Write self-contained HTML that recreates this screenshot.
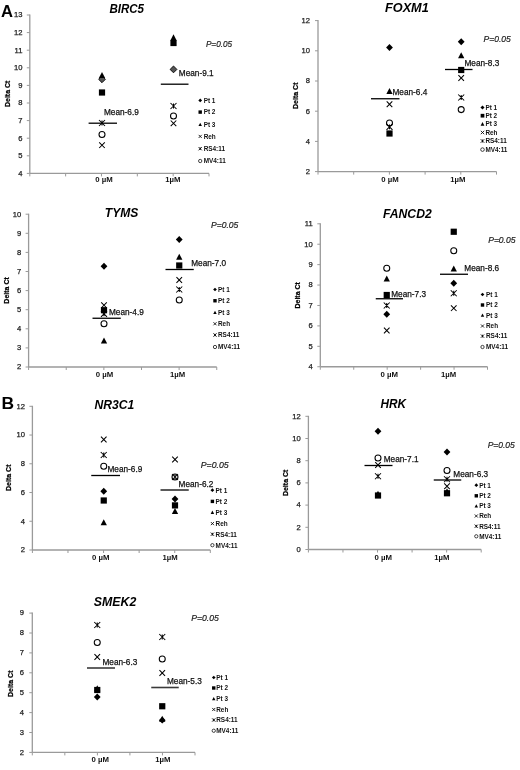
<!DOCTYPE html>
<html><head><meta charset="utf-8"><title>Delta Ct figure</title>
<style>
html,body{margin:0;padding:0;background:#fff;}
body{width:520px;height:770px;overflow:hidden;}
svg{display:block;font-family:"Liberation Sans", Arial, sans-serif;}
</style></head>
<body>
<svg width="520" height="770" viewBox="0 0 520 770">
<rect width="520" height="770" fill="#fff"/>
<path d="M29.80 14.50L29.80 173.40" stroke="#9a9a9a" stroke-width="1.3"/>
<path d="M26.80 173.40L29.80 173.40" stroke="#9a9a9a" stroke-width="1"/>
<text x="22.50" y="175.70" font-size="7.6" text-anchor="end" fill="#222" stroke="#222" stroke-width="0.25">4</text>
<path d="M26.80 155.80L29.80 155.80" stroke="#9a9a9a" stroke-width="1"/>
<text x="22.50" y="158.10" font-size="7.6" text-anchor="end" fill="#222" stroke="#222" stroke-width="0.25">5</text>
<path d="M26.80 138.20L29.80 138.20" stroke="#9a9a9a" stroke-width="1"/>
<text x="22.50" y="140.50" font-size="7.6" text-anchor="end" fill="#222" stroke="#222" stroke-width="0.25">6</text>
<path d="M26.80 120.60L29.80 120.60" stroke="#9a9a9a" stroke-width="1"/>
<text x="22.50" y="122.90" font-size="7.6" text-anchor="end" fill="#222" stroke="#222" stroke-width="0.25">7</text>
<path d="M26.80 103.00L29.80 103.00" stroke="#9a9a9a" stroke-width="1"/>
<text x="22.50" y="105.30" font-size="7.6" text-anchor="end" fill="#222" stroke="#222" stroke-width="0.25">8</text>
<path d="M26.80 85.40L29.80 85.40" stroke="#9a9a9a" stroke-width="1"/>
<text x="22.50" y="87.70" font-size="7.6" text-anchor="end" fill="#222" stroke="#222" stroke-width="0.25">9</text>
<path d="M26.80 67.80L29.80 67.80" stroke="#9a9a9a" stroke-width="1"/>
<text x="22.50" y="70.10" font-size="7.6" text-anchor="end" fill="#222" stroke="#222" stroke-width="0.25">10</text>
<path d="M26.80 50.20L29.80 50.20" stroke="#9a9a9a" stroke-width="1"/>
<text x="22.50" y="52.50" font-size="7.6" text-anchor="end" fill="#222" stroke="#222" stroke-width="0.25">11</text>
<path d="M26.80 32.60L29.80 32.60" stroke="#9a9a9a" stroke-width="1"/>
<text x="22.50" y="34.90" font-size="7.6" text-anchor="end" fill="#222" stroke="#222" stroke-width="0.25">12</text>
<path d="M26.80 15.00L29.80 15.00" stroke="#9a9a9a" stroke-width="1"/>
<text x="22.50" y="17.30" font-size="7.6" text-anchor="end" fill="#222" stroke="#222" stroke-width="0.25">13</text>
<path d="M29.80 173.40L209.00 173.40" stroke="#9a9a9a" stroke-width="1.3"/>
<path d="M29.80 173.40L29.80 176.40" stroke="#9a9a9a" stroke-width="1"/>
<path d="M65.64 173.40L65.64 176.40" stroke="#9a9a9a" stroke-width="1"/>
<path d="M101.48 173.40L101.48 176.40" stroke="#9a9a9a" stroke-width="1"/>
<path d="M137.32 173.40L137.32 176.40" stroke="#9a9a9a" stroke-width="1"/>
<path d="M173.16 173.40L173.16 176.40" stroke="#9a9a9a" stroke-width="1"/>
<path d="M209.00 173.40L209.00 176.40" stroke="#9a9a9a" stroke-width="1"/>
<text x="104.00" y="182.00" font-size="7.6" text-anchor="middle" font-weight="bold" fill="#111" textLength="17.50" lengthAdjust="spacingAndGlyphs">0 µM</text>
<text x="172.80" y="182.00" font-size="7.6" text-anchor="middle" font-weight="bold" fill="#111" textLength="15.20" lengthAdjust="spacingAndGlyphs">1µM</text>
<text x="109.40" y="12.50" font-size="12.4" text-anchor="start" font-weight="bold" font-style="italic" fill="#000" textLength="34.60" lengthAdjust="spacingAndGlyphs">BIRC5</text>
<text x="9.90" y="93.80" font-size="7.8" text-anchor="middle" font-weight="bold" fill="#000" stroke="#000" stroke-width="0.25" textLength="26.50" lengthAdjust="spacingAndGlyphs" transform="rotate(-90 9.90 93.80)">Delta Ct</text>
<text x="205.90" y="47.30" font-size="8.6" text-anchor="start" font-style="italic" fill="#222" stroke="#222" stroke-width="0.2" textLength="26.20" lengthAdjust="spacingAndGlyphs">P=0.05</text>
<path d="M88.60 123.20L117.00 123.20" stroke="#000" stroke-width="1.3"/>
<path d="M160.80 84.20L188.50 84.20" stroke="#000" stroke-width="1.3"/>
<text x="104.00" y="114.90" font-size="8.3" text-anchor="start" fill="#111" stroke="#111" stroke-width="0.25" textLength="34.80" lengthAdjust="spacingAndGlyphs">Mean-6.9</text>
<text x="178.80" y="75.90" font-size="8.3" text-anchor="start" fill="#111" stroke="#111" stroke-width="0.25" textLength="34.80" lengthAdjust="spacingAndGlyphs">Mean-9.1</text>
<path d="M102.00 75.90L105.40 79.30L102.00 82.70L98.60 79.30Z" fill="#555" stroke="#000" stroke-width="0.9"/>
<rect x="98.90" y="89.40" width="6.20" height="6.20" fill="#000"/>
<path d="M102.00 72.00L105.15 78.10L98.85 78.10Z" fill="#000"/>
<path d="M99.20 142.40L104.80 148.00M104.80 142.40L99.20 148.00" stroke="#000" stroke-width="1.05" fill="none"/>
<path d="M99.00 120.00L105.00 126.00M105.00 120.00L99.00 126.00M102.00 120.60L102.00 125.40" stroke="#000" stroke-width="1.05" fill="none"/>
<circle cx="102.00" cy="134.50" r="3.00" stroke="#000" stroke-width="1.05" fill="none"/>
<path d="M173.50 66.00L176.90 69.40L173.50 72.80L170.10 69.40Z" fill="#555" stroke="#000" stroke-width="0.9"/>
<rect x="170.40" y="39.90" width="6.20" height="6.20" fill="#000"/>
<path d="M173.50 34.30L176.65 40.40L170.35 40.40Z" fill="#000"/>
<path d="M170.70 120.50L176.30 126.10M176.30 120.50L170.70 126.10" stroke="#000" stroke-width="1.05" fill="none"/>
<path d="M170.50 103.00L176.50 109.00M176.50 103.00L170.50 109.00M173.50 103.60L173.50 108.40" stroke="#000" stroke-width="1.05" fill="none"/>
<circle cx="173.50" cy="116.00" r="3.00" stroke="#000" stroke-width="1.05" fill="none"/>
<path d="M200.20 98.53L202.07 100.40L200.20 102.27L198.33 100.40Z" fill="#000"/>
<text x="203.70" y="102.70" font-size="6.4" text-anchor="start" font-weight="bold" fill="#111">Pt 1</text>
<rect x="198.49" y="110.39" width="3.41" height="3.41" fill="#000"/>
<text x="203.70" y="114.40" font-size="6.4" text-anchor="start" font-weight="bold" fill="#111">Pt 2</text>
<path d="M200.20 122.69L201.93 126.04L198.47 126.04Z" fill="#000"/>
<text x="203.70" y="126.80" font-size="6.4" text-anchor="start" font-weight="bold" fill="#111">Pt 3</text>
<path d="M198.66 134.86L201.74 137.94M201.74 134.86L198.66 137.94" stroke="#000" stroke-width="0.84" fill="none"/>
<text x="203.70" y="138.70" font-size="6.4" text-anchor="start" font-weight="bold" fill="#111">Reh</text>
<path d="M198.55 147.05L201.85 150.35M201.85 147.05L198.55 150.35M200.20 147.38L200.20 150.02" stroke="#000" stroke-width="0.84" fill="none"/>
<text x="203.70" y="151.00" font-size="6.4" text-anchor="start" font-weight="bold" fill="#111">RS4:11</text>
<circle cx="200.20" cy="161.00" r="1.65" stroke="#000" stroke-width="0.73" fill="none"/>
<text x="203.70" y="163.30" font-size="6.4" text-anchor="start" font-weight="bold" fill="#111">MV4:11</text>
<path d="M318.00 20.10L318.00 171.60" stroke="#9a9a9a" stroke-width="1.3"/>
<path d="M315.00 171.60L318.00 171.60" stroke="#9a9a9a" stroke-width="1"/>
<text x="310.00" y="173.90" font-size="7.6" text-anchor="end" fill="#222" stroke="#222" stroke-width="0.25">2</text>
<path d="M315.00 141.40L318.00 141.40" stroke="#9a9a9a" stroke-width="1"/>
<text x="310.00" y="143.70" font-size="7.6" text-anchor="end" fill="#222" stroke="#222" stroke-width="0.25">4</text>
<path d="M315.00 111.20L318.00 111.20" stroke="#9a9a9a" stroke-width="1"/>
<text x="310.00" y="113.50" font-size="7.6" text-anchor="end" fill="#222" stroke="#222" stroke-width="0.25">6</text>
<path d="M315.00 81.00L318.00 81.00" stroke="#9a9a9a" stroke-width="1"/>
<text x="310.00" y="83.30" font-size="7.6" text-anchor="end" fill="#222" stroke="#222" stroke-width="0.25">8</text>
<path d="M315.00 50.80L318.00 50.80" stroke="#9a9a9a" stroke-width="1"/>
<text x="310.00" y="53.10" font-size="7.6" text-anchor="end" fill="#222" stroke="#222" stroke-width="0.25">10</text>
<path d="M315.00 20.60L318.00 20.60" stroke="#9a9a9a" stroke-width="1"/>
<text x="310.00" y="22.90" font-size="7.6" text-anchor="end" fill="#222" stroke="#222" stroke-width="0.25">12</text>
<path d="M318.00 171.60L496.50 171.60" stroke="#9a9a9a" stroke-width="1.3"/>
<path d="M318.00 171.60L318.00 174.60" stroke="#9a9a9a" stroke-width="1"/>
<path d="M353.70 171.60L353.70 174.60" stroke="#9a9a9a" stroke-width="1"/>
<path d="M389.40 171.60L389.40 174.60" stroke="#9a9a9a" stroke-width="1"/>
<path d="M425.10 171.60L425.10 174.60" stroke="#9a9a9a" stroke-width="1"/>
<path d="M460.80 171.60L460.80 174.60" stroke="#9a9a9a" stroke-width="1"/>
<path d="M496.50 171.60L496.50 174.60" stroke="#9a9a9a" stroke-width="1"/>
<text x="390.00" y="181.70" font-size="7.6" text-anchor="middle" font-weight="bold" fill="#111" textLength="17.50" lengthAdjust="spacingAndGlyphs">0 µM</text>
<text x="457.75" y="181.70" font-size="7.6" text-anchor="middle" font-weight="bold" fill="#111" textLength="15.20" lengthAdjust="spacingAndGlyphs">1µM</text>
<text x="385.00" y="12.00" font-size="12.4" text-anchor="start" font-weight="bold" font-style="italic" fill="#000" textLength="43.75" lengthAdjust="spacingAndGlyphs">FOXM1</text>
<text x="297.60" y="95.75" font-size="7.8" text-anchor="middle" font-weight="bold" fill="#000" stroke="#000" stroke-width="0.25" textLength="26.50" lengthAdjust="spacingAndGlyphs" transform="rotate(-90 297.60 95.75)">Delta Ct</text>
<text x="483.60" y="42.30" font-size="8.6" text-anchor="start" font-style="italic" fill="#222" stroke="#222" stroke-width="0.2" textLength="27.15" lengthAdjust="spacingAndGlyphs">P=0.05</text>
<path d="M371.00 98.75L399.50 98.75" stroke="#000" stroke-width="1.3"/>
<path d="M445.00 69.50L472.50 69.50" stroke="#000" stroke-width="1.3"/>
<text x="392.50" y="94.90" font-size="8.3" text-anchor="start" fill="#111" stroke="#111" stroke-width="0.25" textLength="34.80" lengthAdjust="spacingAndGlyphs">Mean-6.4</text>
<text x="464.50" y="65.90" font-size="8.3" text-anchor="start" fill="#111" stroke="#111" stroke-width="0.25" textLength="34.80" lengthAdjust="spacingAndGlyphs">Mean-8.3</text>
<path d="M389.50 44.10L392.90 47.50L389.50 50.90L386.10 47.50Z" fill="#000"/>
<rect x="386.40" y="130.40" width="6.20" height="6.20" fill="#000"/>
<path d="M389.50 87.95L392.65 94.05L386.35 94.05Z" fill="#000"/>
<path d="M386.70 101.45L392.30 107.05M392.30 101.45L386.70 107.05" stroke="#000" stroke-width="1.05" fill="none"/>
<path d="M386.50 123.80L392.50 129.80M392.50 123.80L386.50 129.80M389.50 124.40L389.50 129.20" stroke="#000" stroke-width="1.05" fill="none"/>
<circle cx="389.50" cy="123.00" r="3.00" stroke="#000" stroke-width="1.05" fill="none"/>
<path d="M461.20 38.35L464.60 41.75L461.20 45.15L457.80 41.75Z" fill="#000"/>
<rect x="458.10" y="66.90" width="6.20" height="6.20" fill="#000"/>
<path d="M461.20 52.20L464.35 58.30L458.05 58.30Z" fill="#000"/>
<path d="M458.40 75.20L464.00 80.80M464.00 75.20L458.40 80.80" stroke="#000" stroke-width="1.05" fill="none"/>
<path d="M458.20 94.50L464.20 100.50M464.20 94.50L458.20 100.50M461.20 95.10L461.20 99.90" stroke="#000" stroke-width="1.05" fill="none"/>
<circle cx="461.20" cy="109.60" r="3.00" stroke="#000" stroke-width="1.05" fill="none"/>
<path d="M482.50 105.46L484.54 107.50L482.50 109.54L480.46 107.50Z" fill="#000"/>
<text x="485.40" y="109.80" font-size="6.4" text-anchor="start" font-weight="bold" fill="#111">Pt 1</text>
<rect x="480.64" y="113.84" width="3.72" height="3.72" fill="#000"/>
<text x="485.40" y="118.00" font-size="6.4" text-anchor="start" font-weight="bold" fill="#111">Pt 2</text>
<path d="M482.50 122.12L484.39 125.78L480.61 125.78Z" fill="#000"/>
<text x="485.40" y="126.40" font-size="6.4" text-anchor="start" font-weight="bold" fill="#111">Pt 3</text>
<path d="M480.82 130.82L484.18 134.18M484.18 130.82L480.82 134.18" stroke="#000" stroke-width="0.84" fill="none"/>
<text x="485.40" y="134.80" font-size="6.4" text-anchor="start" font-weight="bold" fill="#111">Reh</text>
<path d="M480.70 139.20L484.30 142.80M484.30 139.20L480.70 142.80M482.50 139.56L482.50 142.44" stroke="#000" stroke-width="0.84" fill="none"/>
<text x="485.40" y="143.30" font-size="6.4" text-anchor="start" font-weight="bold" fill="#111">RS4:11</text>
<circle cx="482.50" cy="149.60" r="1.80" stroke="#000" stroke-width="0.73" fill="none"/>
<text x="485.40" y="151.90" font-size="6.4" text-anchor="start" font-weight="bold" fill="#111">MV4:11</text>
<path d="M28.60 213.70L28.60 367.00" stroke="#9a9a9a" stroke-width="1.3"/>
<path d="M25.60 367.00L28.60 367.00" stroke="#9a9a9a" stroke-width="1"/>
<text x="21.20" y="369.30" font-size="7.6" text-anchor="end" fill="#222" stroke="#222" stroke-width="0.25">2</text>
<path d="M25.60 347.90L28.60 347.90" stroke="#9a9a9a" stroke-width="1"/>
<text x="21.20" y="350.20" font-size="7.6" text-anchor="end" fill="#222" stroke="#222" stroke-width="0.25">3</text>
<path d="M25.60 328.80L28.60 328.80" stroke="#9a9a9a" stroke-width="1"/>
<text x="21.20" y="331.10" font-size="7.6" text-anchor="end" fill="#222" stroke="#222" stroke-width="0.25">4</text>
<path d="M25.60 309.70L28.60 309.70" stroke="#9a9a9a" stroke-width="1"/>
<text x="21.20" y="312.00" font-size="7.6" text-anchor="end" fill="#222" stroke="#222" stroke-width="0.25">5</text>
<path d="M25.60 290.60L28.60 290.60" stroke="#9a9a9a" stroke-width="1"/>
<text x="21.20" y="292.90" font-size="7.6" text-anchor="end" fill="#222" stroke="#222" stroke-width="0.25">6</text>
<path d="M25.60 271.50L28.60 271.50" stroke="#9a9a9a" stroke-width="1"/>
<text x="21.20" y="273.80" font-size="7.6" text-anchor="end" fill="#222" stroke="#222" stroke-width="0.25">7</text>
<path d="M25.60 252.40L28.60 252.40" stroke="#9a9a9a" stroke-width="1"/>
<text x="21.20" y="254.70" font-size="7.6" text-anchor="end" fill="#222" stroke="#222" stroke-width="0.25">8</text>
<path d="M25.60 233.30L28.60 233.30" stroke="#9a9a9a" stroke-width="1"/>
<text x="21.20" y="235.60" font-size="7.6" text-anchor="end" fill="#222" stroke="#222" stroke-width="0.25">9</text>
<path d="M25.60 214.20L28.60 214.20" stroke="#9a9a9a" stroke-width="1"/>
<text x="21.20" y="216.50" font-size="7.6" text-anchor="end" fill="#222" stroke="#222" stroke-width="0.25">10</text>
<path d="M28.60 367.00L216.75 367.00" stroke="#9a9a9a" stroke-width="1.3"/>
<path d="M28.60 367.00L28.60 370.00" stroke="#9a9a9a" stroke-width="1"/>
<path d="M66.23 367.00L66.23 370.00" stroke="#9a9a9a" stroke-width="1"/>
<path d="M103.86 367.00L103.86 370.00" stroke="#9a9a9a" stroke-width="1"/>
<path d="M141.49 367.00L141.49 370.00" stroke="#9a9a9a" stroke-width="1"/>
<path d="M179.12 367.00L179.12 370.00" stroke="#9a9a9a" stroke-width="1"/>
<path d="M216.75 367.00L216.75 370.00" stroke="#9a9a9a" stroke-width="1"/>
<text x="104.50" y="376.70" font-size="7.6" text-anchor="middle" font-weight="bold" fill="#111" textLength="17.50" lengthAdjust="spacingAndGlyphs">0 µM</text>
<text x="177.50" y="377.20" font-size="7.6" text-anchor="middle" font-weight="bold" fill="#111" textLength="15.20" lengthAdjust="spacingAndGlyphs">1µM</text>
<text x="104.80" y="217.20" font-size="12.4" text-anchor="start" font-weight="bold" font-style="italic" fill="#000" textLength="33.50" lengthAdjust="spacingAndGlyphs">TYMS</text>
<text x="8.85" y="290.40" font-size="7.8" text-anchor="middle" font-weight="bold" fill="#000" stroke="#000" stroke-width="0.25" textLength="26.50" lengthAdjust="spacingAndGlyphs" transform="rotate(-90 8.85 290.40)">Delta Ct</text>
<text x="211.00" y="228.00" font-size="8.6" text-anchor="start" font-style="italic" fill="#222" stroke="#222" stroke-width="0.2" textLength="27.30" lengthAdjust="spacingAndGlyphs">P=0.05</text>
<path d="M92.50 318.25L120.75 318.25" stroke="#000" stroke-width="1.3"/>
<path d="M165.50 269.50L193.75 269.50" stroke="#000" stroke-width="1.3"/>
<text x="109.00" y="314.90" font-size="8.3" text-anchor="start" fill="#111" stroke="#111" stroke-width="0.25" textLength="34.80" lengthAdjust="spacingAndGlyphs">Mean-4.9</text>
<text x="191.25" y="265.90" font-size="8.3" text-anchor="start" fill="#111" stroke="#111" stroke-width="0.25" textLength="34.80" lengthAdjust="spacingAndGlyphs">Mean-7.0</text>
<path d="M104.00 262.85L107.40 266.25L104.00 269.65L100.60 266.25Z" fill="#000"/>
<rect x="100.90" y="307.10" width="6.20" height="6.20" fill="#000"/>
<path d="M104.00 337.45L107.15 343.55L100.85 343.55Z" fill="#000"/>
<path d="M101.20 302.40L106.80 308.00M106.80 302.40L101.20 308.00" stroke="#000" stroke-width="1.05" fill="none"/>
<path d="M101.00 310.80L107.00 316.80M107.00 310.80L101.00 316.80M104.00 311.40L104.00 316.20" stroke="#000" stroke-width="1.05" fill="none"/>
<circle cx="104.00" cy="323.75" r="3.00" stroke="#000" stroke-width="1.05" fill="none"/>
<path d="M179.25 236.10L182.65 239.50L179.25 242.90L175.85 239.50Z" fill="#000"/>
<rect x="176.15" y="262.40" width="6.20" height="6.20" fill="#000"/>
<path d="M179.25 253.70L182.40 259.80L176.10 259.80Z" fill="#000"/>
<path d="M176.45 277.20L182.05 282.80M182.05 277.20L176.45 282.80" stroke="#000" stroke-width="1.05" fill="none"/>
<path d="M176.25 286.50L182.25 292.50M182.25 286.50L176.25 292.50M179.25 287.10L179.25 291.90" stroke="#000" stroke-width="1.05" fill="none"/>
<circle cx="179.25" cy="300.00" r="3.00" stroke="#000" stroke-width="1.05" fill="none"/>
<path d="M215.00 287.63L216.87 289.50L215.00 291.37L213.13 289.50Z" fill="#000"/>
<text x="218.00" y="291.80" font-size="6.4" text-anchor="start" font-weight="bold" fill="#111">Pt 1</text>
<rect x="213.29" y="299.05" width="3.41" height="3.41" fill="#000"/>
<text x="218.00" y="303.05" font-size="6.4" text-anchor="start" font-weight="bold" fill="#111">Pt 2</text>
<path d="M215.00 310.69L216.73 314.04L213.27 314.04Z" fill="#000"/>
<text x="218.00" y="314.80" font-size="6.4" text-anchor="start" font-weight="bold" fill="#111">Pt 3</text>
<path d="M213.46 322.21L216.54 325.29M216.54 322.21L213.46 325.29" stroke="#000" stroke-width="0.84" fill="none"/>
<text x="218.00" y="326.05" font-size="6.4" text-anchor="start" font-weight="bold" fill="#111">Reh</text>
<path d="M213.35 333.35L216.65 336.65M216.65 333.35L213.35 336.65M215.00 333.68L215.00 336.32" stroke="#000" stroke-width="0.84" fill="none"/>
<text x="218.00" y="337.30" font-size="6.4" text-anchor="start" font-weight="bold" fill="#111">RS4:11</text>
<circle cx="215.00" cy="347.00" r="1.65" stroke="#000" stroke-width="0.73" fill="none"/>
<text x="218.00" y="349.30" font-size="6.4" text-anchor="start" font-weight="bold" fill="#111">MV4:11</text>
<path d="M320.30 223.30L320.30 366.74" stroke="#9a9a9a" stroke-width="1.3"/>
<path d="M317.30 366.74L320.30 366.74" stroke="#9a9a9a" stroke-width="1"/>
<text x="312.70" y="369.04" font-size="7.6" text-anchor="end" fill="#222" stroke="#222" stroke-width="0.25">4</text>
<path d="M317.30 346.32L320.30 346.32" stroke="#9a9a9a" stroke-width="1"/>
<text x="312.70" y="348.62" font-size="7.6" text-anchor="end" fill="#222" stroke="#222" stroke-width="0.25">5</text>
<path d="M317.30 325.90L320.30 325.90" stroke="#9a9a9a" stroke-width="1"/>
<text x="312.70" y="328.20" font-size="7.6" text-anchor="end" fill="#222" stroke="#222" stroke-width="0.25">6</text>
<path d="M317.30 305.48L320.30 305.48" stroke="#9a9a9a" stroke-width="1"/>
<text x="312.70" y="307.78" font-size="7.6" text-anchor="end" fill="#222" stroke="#222" stroke-width="0.25">7</text>
<path d="M317.30 285.06L320.30 285.06" stroke="#9a9a9a" stroke-width="1"/>
<text x="312.70" y="287.36" font-size="7.6" text-anchor="end" fill="#222" stroke="#222" stroke-width="0.25">8</text>
<path d="M317.30 264.64L320.30 264.64" stroke="#9a9a9a" stroke-width="1"/>
<text x="312.70" y="266.94" font-size="7.6" text-anchor="end" fill="#222" stroke="#222" stroke-width="0.25">9</text>
<path d="M317.30 244.22L320.30 244.22" stroke="#9a9a9a" stroke-width="1"/>
<text x="312.70" y="246.52" font-size="7.6" text-anchor="end" fill="#222" stroke="#222" stroke-width="0.25">10</text>
<path d="M317.30 223.80L320.30 223.80" stroke="#9a9a9a" stroke-width="1"/>
<text x="312.70" y="226.10" font-size="7.6" text-anchor="end" fill="#222" stroke="#222" stroke-width="0.25">11</text>
<path d="M320.30 366.74L487.50 366.74" stroke="#9a9a9a" stroke-width="1.3"/>
<path d="M320.30 366.74L320.30 369.74" stroke="#9a9a9a" stroke-width="1"/>
<path d="M353.74 366.74L353.74 369.74" stroke="#9a9a9a" stroke-width="1"/>
<path d="M387.18 366.74L387.18 369.74" stroke="#9a9a9a" stroke-width="1"/>
<path d="M420.62 366.74L420.62 369.74" stroke="#9a9a9a" stroke-width="1"/>
<path d="M454.06 366.74L454.06 369.74" stroke="#9a9a9a" stroke-width="1"/>
<path d="M487.50 366.74L487.50 369.74" stroke="#9a9a9a" stroke-width="1"/>
<text x="389.25" y="377.20" font-size="7.6" text-anchor="middle" font-weight="bold" fill="#111" textLength="17.50" lengthAdjust="spacingAndGlyphs">0 µM</text>
<text x="448.50" y="377.20" font-size="7.6" text-anchor="middle" font-weight="bold" fill="#111" textLength="15.20" lengthAdjust="spacingAndGlyphs">1µM</text>
<text x="383.00" y="217.50" font-size="12.4" text-anchor="start" font-weight="bold" font-style="italic" fill="#000" textLength="48.75" lengthAdjust="spacingAndGlyphs">FANCD2</text>
<text x="299.90" y="295.30" font-size="7.8" text-anchor="middle" font-weight="bold" fill="#000" stroke="#000" stroke-width="0.25" textLength="26.50" lengthAdjust="spacingAndGlyphs" transform="rotate(-90 299.90 295.30)">Delta Ct</text>
<text x="488.20" y="242.50" font-size="8.6" text-anchor="start" font-style="italic" fill="#222" stroke="#222" stroke-width="0.2" textLength="27.30" lengthAdjust="spacingAndGlyphs">P=0.05</text>
<path d="M375.75 298.75L403.00 298.75" stroke="#000" stroke-width="1.3"/>
<path d="M440.00 274.25L468.00 274.25" stroke="#000" stroke-width="1.3"/>
<text x="391.25" y="296.65" font-size="8.3" text-anchor="start" fill="#111" stroke="#111" stroke-width="0.25" textLength="34.80" lengthAdjust="spacingAndGlyphs">Mean-7.3</text>
<text x="464.30" y="271.20" font-size="8.3" text-anchor="start" fill="#111" stroke="#111" stroke-width="0.25" textLength="34.80" lengthAdjust="spacingAndGlyphs">Mean-8.6</text>
<path d="M386.75 310.85L390.15 314.25L386.75 317.65L383.35 314.25Z" fill="#000"/>
<rect x="383.65" y="291.90" width="6.20" height="6.20" fill="#000"/>
<path d="M386.75 275.45L389.90 281.55L383.60 281.55Z" fill="#000"/>
<path d="M383.95 327.70L389.55 333.30M389.55 327.70L383.95 333.30" stroke="#000" stroke-width="1.05" fill="none"/>
<path d="M383.75 302.50L389.75 308.50M389.75 302.50L383.75 308.50M386.75 303.10L386.75 307.90" stroke="#000" stroke-width="1.05" fill="none"/>
<circle cx="386.75" cy="268.25" r="3.00" stroke="#000" stroke-width="1.05" fill="none"/>
<path d="M453.75 279.85L457.15 283.25L453.75 286.65L450.35 283.25Z" fill="#000"/>
<rect x="450.65" y="228.65" width="6.20" height="6.20" fill="#000"/>
<path d="M453.75 265.45L456.90 271.55L450.60 271.55Z" fill="#000"/>
<path d="M450.95 305.40L456.55 311.00M456.55 305.40L450.95 311.00" stroke="#000" stroke-width="1.05" fill="none"/>
<path d="M450.75 290.25L456.75 296.25M456.75 290.25L450.75 296.25M453.75 290.85L453.75 295.65" stroke="#000" stroke-width="1.05" fill="none"/>
<circle cx="453.75" cy="250.75" r="3.00" stroke="#000" stroke-width="1.05" fill="none"/>
<path d="M482.50 292.63L484.37 294.50L482.50 296.37L480.63 294.50Z" fill="#000"/>
<text x="486.00" y="296.80" font-size="6.4" text-anchor="start" font-weight="bold" fill="#111">Pt 1</text>
<rect x="480.80" y="303.30" width="3.41" height="3.41" fill="#000"/>
<text x="486.00" y="307.30" font-size="6.4" text-anchor="start" font-weight="bold" fill="#111">Pt 2</text>
<path d="M482.50 313.38L484.23 316.74L480.77 316.74Z" fill="#000"/>
<text x="486.00" y="317.50" font-size="6.4" text-anchor="start" font-weight="bold" fill="#111">Pt 3</text>
<path d="M480.96 324.46L484.04 327.54M484.04 324.46L480.96 327.54" stroke="#000" stroke-width="0.84" fill="none"/>
<text x="486.00" y="328.30" font-size="6.4" text-anchor="start" font-weight="bold" fill="#111">Reh</text>
<path d="M480.85 334.45L484.15 337.75M484.15 334.45L480.85 337.75M482.50 334.78L482.50 337.42" stroke="#000" stroke-width="0.84" fill="none"/>
<text x="486.00" y="338.40" font-size="6.4" text-anchor="start" font-weight="bold" fill="#111">RS4:11</text>
<circle cx="482.50" cy="347.00" r="1.65" stroke="#000" stroke-width="0.73" fill="none"/>
<text x="486.00" y="349.30" font-size="6.4" text-anchor="start" font-weight="bold" fill="#111">MV4:11</text>
<path d="M32.40 405.80L32.40 550.00" stroke="#9a9a9a" stroke-width="1.3"/>
<path d="M29.40 550.00L32.40 550.00" stroke="#9a9a9a" stroke-width="1"/>
<text x="25.00" y="552.30" font-size="7.6" text-anchor="end" fill="#222" stroke="#222" stroke-width="0.25">2</text>
<path d="M29.40 521.26L32.40 521.26" stroke="#9a9a9a" stroke-width="1"/>
<text x="25.00" y="523.56" font-size="7.6" text-anchor="end" fill="#222" stroke="#222" stroke-width="0.25">4</text>
<path d="M29.40 492.52L32.40 492.52" stroke="#9a9a9a" stroke-width="1"/>
<text x="25.00" y="494.82" font-size="7.6" text-anchor="end" fill="#222" stroke="#222" stroke-width="0.25">6</text>
<path d="M29.40 463.78L32.40 463.78" stroke="#9a9a9a" stroke-width="1"/>
<text x="25.00" y="466.08" font-size="7.6" text-anchor="end" fill="#222" stroke="#222" stroke-width="0.25">8</text>
<path d="M29.40 435.04L32.40 435.04" stroke="#9a9a9a" stroke-width="1"/>
<text x="25.00" y="437.34" font-size="7.6" text-anchor="end" fill="#222" stroke="#222" stroke-width="0.25">10</text>
<path d="M29.40 406.30L32.40 406.30" stroke="#9a9a9a" stroke-width="1"/>
<text x="25.00" y="408.60" font-size="7.6" text-anchor="end" fill="#222" stroke="#222" stroke-width="0.25">12</text>
<path d="M32.40 550.00L210.30 550.00" stroke="#9a9a9a" stroke-width="1.3"/>
<path d="M32.40 550.00L32.40 553.00" stroke="#9a9a9a" stroke-width="1"/>
<path d="M67.98 550.00L67.98 553.00" stroke="#9a9a9a" stroke-width="1"/>
<path d="M103.56 550.00L103.56 553.00" stroke="#9a9a9a" stroke-width="1"/>
<path d="M139.14 550.00L139.14 553.00" stroke="#9a9a9a" stroke-width="1"/>
<path d="M174.72 550.00L174.72 553.00" stroke="#9a9a9a" stroke-width="1"/>
<path d="M210.30 550.00L210.30 553.00" stroke="#9a9a9a" stroke-width="1"/>
<text x="100.75" y="560.20" font-size="7.6" text-anchor="middle" font-weight="bold" fill="#111" textLength="17.50" lengthAdjust="spacingAndGlyphs">0 µM</text>
<text x="170.00" y="560.20" font-size="7.6" text-anchor="middle" font-weight="bold" fill="#111" textLength="15.20" lengthAdjust="spacingAndGlyphs">1µM</text>
<text x="94.50" y="408.50" font-size="12.4" text-anchor="start" font-weight="bold" font-style="italic" fill="#000" textLength="39.80" lengthAdjust="spacingAndGlyphs">NR3C1</text>
<text x="11.25" y="477.75" font-size="7.8" text-anchor="middle" font-weight="bold" fill="#000" stroke="#000" stroke-width="0.25" textLength="26.50" lengthAdjust="spacingAndGlyphs" transform="rotate(-90 11.25 477.75)">Delta Ct</text>
<text x="200.80" y="468.00" font-size="8.6" text-anchor="start" font-style="italic" fill="#222" stroke="#222" stroke-width="0.2" textLength="27.90" lengthAdjust="spacingAndGlyphs">P=0.05</text>
<path d="M91.25 475.50L120.00 475.50" stroke="#000" stroke-width="1.3"/>
<path d="M160.50 490.00L188.75 490.00" stroke="#000" stroke-width="1.3"/>
<text x="107.50" y="471.65" font-size="8.3" text-anchor="start" fill="#111" stroke="#111" stroke-width="0.25" textLength="34.80" lengthAdjust="spacingAndGlyphs">Mean-6.9</text>
<text x="178.60" y="486.70" font-size="8.3" text-anchor="start" fill="#111" stroke="#111" stroke-width="0.25" textLength="34.80" lengthAdjust="spacingAndGlyphs">Mean-6.2</text>
<path d="M103.75 487.85L107.15 491.25L103.75 494.65L100.35 491.25Z" fill="#000"/>
<rect x="100.65" y="497.40" width="6.20" height="6.20" fill="#000"/>
<path d="M103.75 519.20L106.90 525.30L100.60 525.30Z" fill="#000"/>
<path d="M100.95 436.70L106.55 442.30M106.55 436.70L100.95 442.30" stroke="#000" stroke-width="1.05" fill="none"/>
<path d="M100.75 452.00L106.75 458.00M106.75 452.00L100.75 458.00M103.75 452.60L103.75 457.40" stroke="#000" stroke-width="1.05" fill="none"/>
<circle cx="103.75" cy="466.25" r="3.00" stroke="#000" stroke-width="1.05" fill="none"/>
<path d="M175.00 495.60L178.40 499.00L175.00 502.40L171.60 499.00Z" fill="#000"/>
<rect x="171.90" y="502.30" width="6.20" height="6.20" fill="#000"/>
<path d="M175.00 508.00L178.15 514.10L171.85 514.10Z" fill="#000"/>
<path d="M172.20 456.70L177.80 462.30M177.80 456.70L172.20 462.30" stroke="#000" stroke-width="1.05" fill="none"/>
<path d="M172.00 474.00L178.00 480.00M178.00 474.00L172.00 480.00M175.00 474.60L175.00 479.40" stroke="#000" stroke-width="1.05" fill="none"/>
<circle cx="175.00" cy="477.00" r="3.00" stroke="#000" stroke-width="1.05" fill="none"/>
<path d="M212.40 488.33L214.27 490.20L212.40 492.07L210.53 490.20Z" fill="#000"/>
<text x="215.60" y="492.50" font-size="6.4" text-anchor="start" font-weight="bold" fill="#111">Pt 1</text>
<rect x="210.69" y="499.69" width="3.41" height="3.41" fill="#000"/>
<text x="215.60" y="503.70" font-size="6.4" text-anchor="start" font-weight="bold" fill="#111">Pt 2</text>
<path d="M212.40 510.58L214.13 513.94L210.67 513.94Z" fill="#000"/>
<text x="215.60" y="514.70" font-size="6.4" text-anchor="start" font-weight="bold" fill="#111">Pt 3</text>
<path d="M210.86 522.06L213.94 525.14M213.94 522.06L210.86 525.14" stroke="#000" stroke-width="0.84" fill="none"/>
<text x="215.60" y="525.90" font-size="6.4" text-anchor="start" font-weight="bold" fill="#111">Reh</text>
<path d="M210.75 532.55L214.05 535.85M214.05 532.55L210.75 535.85M212.40 532.88L212.40 535.52" stroke="#000" stroke-width="0.84" fill="none"/>
<text x="215.60" y="536.50" font-size="6.4" text-anchor="start" font-weight="bold" fill="#111">RS4:11</text>
<circle cx="212.40" cy="545.20" r="1.65" stroke="#000" stroke-width="0.73" fill="none"/>
<text x="215.60" y="547.50" font-size="6.4" text-anchor="start" font-weight="bold" fill="#111">MV4:11</text>
<path d="M308.40 415.80L308.40 549.50" stroke="#9a9a9a" stroke-width="1.3"/>
<path d="M305.40 549.50L308.40 549.50" stroke="#9a9a9a" stroke-width="1"/>
<text x="300.80" y="551.80" font-size="7.6" text-anchor="end" fill="#222" stroke="#222" stroke-width="0.25">0</text>
<path d="M305.40 527.30L308.40 527.30" stroke="#9a9a9a" stroke-width="1"/>
<text x="300.80" y="529.60" font-size="7.6" text-anchor="end" fill="#222" stroke="#222" stroke-width="0.25">2</text>
<path d="M305.40 505.10L308.40 505.10" stroke="#9a9a9a" stroke-width="1"/>
<text x="300.80" y="507.40" font-size="7.6" text-anchor="end" fill="#222" stroke="#222" stroke-width="0.25">4</text>
<path d="M305.40 482.90L308.40 482.90" stroke="#9a9a9a" stroke-width="1"/>
<text x="300.80" y="485.20" font-size="7.6" text-anchor="end" fill="#222" stroke="#222" stroke-width="0.25">6</text>
<path d="M305.40 460.70L308.40 460.70" stroke="#9a9a9a" stroke-width="1"/>
<text x="300.80" y="463.00" font-size="7.6" text-anchor="end" fill="#222" stroke="#222" stroke-width="0.25">8</text>
<path d="M305.40 438.50L308.40 438.50" stroke="#9a9a9a" stroke-width="1"/>
<text x="300.80" y="440.80" font-size="7.6" text-anchor="end" fill="#222" stroke="#222" stroke-width="0.25">10</text>
<path d="M305.40 416.30L308.40 416.30" stroke="#9a9a9a" stroke-width="1"/>
<text x="300.80" y="418.60" font-size="7.6" text-anchor="end" fill="#222" stroke="#222" stroke-width="0.25">12</text>
<path d="M308.40 549.50L481.20 549.50" stroke="#9a9a9a" stroke-width="1.3"/>
<path d="M308.40 549.50L308.40 552.50" stroke="#9a9a9a" stroke-width="1"/>
<path d="M342.96 549.50L342.96 552.50" stroke="#9a9a9a" stroke-width="1"/>
<path d="M377.52 549.50L377.52 552.50" stroke="#9a9a9a" stroke-width="1"/>
<path d="M412.08 549.50L412.08 552.50" stroke="#9a9a9a" stroke-width="1"/>
<path d="M446.64 549.50L446.64 552.50" stroke="#9a9a9a" stroke-width="1"/>
<path d="M481.20 549.50L481.20 552.50" stroke="#9a9a9a" stroke-width="1"/>
<text x="383.25" y="560.20" font-size="7.6" text-anchor="middle" font-weight="bold" fill="#111" textLength="17.50" lengthAdjust="spacingAndGlyphs">0 µM</text>
<text x="441.80" y="559.70" font-size="7.6" text-anchor="middle" font-weight="bold" fill="#111" textLength="15.20" lengthAdjust="spacingAndGlyphs">1µM</text>
<text x="380.40" y="408.10" font-size="12.4" text-anchor="start" font-weight="bold" font-style="italic" fill="#000" textLength="25.60" lengthAdjust="spacingAndGlyphs">HRK</text>
<text x="288.35" y="482.85" font-size="7.8" text-anchor="middle" font-weight="bold" fill="#000" stroke="#000" stroke-width="0.25" textLength="26.50" lengthAdjust="spacingAndGlyphs" transform="rotate(-90 288.35 482.85)">Delta Ct</text>
<text x="487.70" y="447.90" font-size="8.6" text-anchor="start" font-style="italic" fill="#222" stroke="#222" stroke-width="0.2" textLength="27.10" lengthAdjust="spacingAndGlyphs">P=0.05</text>
<path d="M364.50 465.50L392.50 465.50" stroke="#000" stroke-width="1.3"/>
<path d="M433.75 480.00L461.25 480.00" stroke="#000" stroke-width="1.3"/>
<text x="383.75" y="462.15" font-size="8.3" text-anchor="start" fill="#111" stroke="#111" stroke-width="0.25" textLength="34.80" lengthAdjust="spacingAndGlyphs">Mean-7.1</text>
<text x="453.30" y="477.10" font-size="8.3" text-anchor="start" fill="#111" stroke="#111" stroke-width="0.25" textLength="34.80" lengthAdjust="spacingAndGlyphs">Mean-6.3</text>
<path d="M378.00 427.85L381.40 431.25L378.00 434.65L374.60 431.25Z" fill="#000"/>
<rect x="374.90" y="492.40" width="6.20" height="6.20" fill="#000"/>
<path d="M378.00 490.70L381.15 496.80L374.85 496.80Z" fill="#000"/>
<path d="M375.20 462.20L380.80 467.80M380.80 462.20L375.20 467.80" stroke="#000" stroke-width="1.05" fill="none"/>
<path d="M375.00 473.25L381.00 479.25M381.00 473.25L375.00 479.25M378.00 473.85L378.00 478.65" stroke="#000" stroke-width="1.05" fill="none"/>
<circle cx="378.00" cy="458.00" r="3.00" stroke="#000" stroke-width="1.05" fill="none"/>
<path d="M447.00 448.60L450.40 452.00L447.00 455.40L443.60 452.00Z" fill="#000"/>
<rect x="443.90" y="490.15" width="6.20" height="6.20" fill="#000"/>
<path d="M447.00 488.20L450.15 494.30L443.85 494.30Z" fill="#000"/>
<path d="M444.20 483.45L449.80 489.05M449.80 483.45L444.20 489.05" stroke="#000" stroke-width="1.05" fill="none"/>
<path d="M444.00 476.25L450.00 482.25M450.00 476.25L444.00 482.25M447.00 476.85L447.00 481.65" stroke="#000" stroke-width="1.05" fill="none"/>
<circle cx="447.00" cy="470.50" r="3.00" stroke="#000" stroke-width="1.05" fill="none"/>
<path d="M476.30 483.33L478.17 485.20L476.30 487.07L474.43 485.20Z" fill="#000"/>
<text x="479.20" y="487.50" font-size="6.4" text-anchor="start" font-weight="bold" fill="#111">Pt 1</text>
<rect x="474.60" y="494.10" width="3.41" height="3.41" fill="#000"/>
<text x="479.20" y="498.10" font-size="6.4" text-anchor="start" font-weight="bold" fill="#111">Pt 2</text>
<path d="M476.30 504.19L478.03 507.54L474.57 507.54Z" fill="#000"/>
<text x="479.20" y="508.30" font-size="6.4" text-anchor="start" font-weight="bold" fill="#111">Pt 3</text>
<path d="M474.76 514.46L477.84 517.54M477.84 514.46L474.76 517.54" stroke="#000" stroke-width="0.84" fill="none"/>
<text x="479.20" y="518.30" font-size="6.4" text-anchor="start" font-weight="bold" fill="#111">Reh</text>
<path d="M474.65 524.55L477.95 527.85M477.95 524.55L474.65 527.85M476.30 524.88L476.30 527.52" stroke="#000" stroke-width="0.84" fill="none"/>
<text x="479.20" y="528.50" font-size="6.4" text-anchor="start" font-weight="bold" fill="#111">RS4:11</text>
<circle cx="476.30" cy="536.30" r="1.65" stroke="#000" stroke-width="0.73" fill="none"/>
<text x="479.20" y="538.60" font-size="6.4" text-anchor="start" font-weight="bold" fill="#111">MV4:11</text>
<path d="M32.30 612.60L32.30 752.40" stroke="#9a9a9a" stroke-width="1.3"/>
<path d="M29.30 752.40L32.30 752.40" stroke="#9a9a9a" stroke-width="1"/>
<text x="24.00" y="754.70" font-size="7.6" text-anchor="end" fill="#222" stroke="#222" stroke-width="0.25">2</text>
<path d="M29.30 732.50L32.30 732.50" stroke="#9a9a9a" stroke-width="1"/>
<text x="24.00" y="734.80" font-size="7.6" text-anchor="end" fill="#222" stroke="#222" stroke-width="0.25">3</text>
<path d="M29.30 712.60L32.30 712.60" stroke="#9a9a9a" stroke-width="1"/>
<text x="24.00" y="714.90" font-size="7.6" text-anchor="end" fill="#222" stroke="#222" stroke-width="0.25">4</text>
<path d="M29.30 692.70L32.30 692.70" stroke="#9a9a9a" stroke-width="1"/>
<text x="24.00" y="695.00" font-size="7.6" text-anchor="end" fill="#222" stroke="#222" stroke-width="0.25">5</text>
<path d="M29.30 672.80L32.30 672.80" stroke="#9a9a9a" stroke-width="1"/>
<text x="24.00" y="675.10" font-size="7.6" text-anchor="end" fill="#222" stroke="#222" stroke-width="0.25">6</text>
<path d="M29.30 652.90L32.30 652.90" stroke="#9a9a9a" stroke-width="1"/>
<text x="24.00" y="655.20" font-size="7.6" text-anchor="end" fill="#222" stroke="#222" stroke-width="0.25">7</text>
<path d="M29.30 633.00L32.30 633.00" stroke="#9a9a9a" stroke-width="1"/>
<text x="24.00" y="635.30" font-size="7.6" text-anchor="end" fill="#222" stroke="#222" stroke-width="0.25">8</text>
<path d="M29.30 613.10L32.30 613.10" stroke="#9a9a9a" stroke-width="1"/>
<text x="24.00" y="615.40" font-size="7.6" text-anchor="end" fill="#222" stroke="#222" stroke-width="0.25">9</text>
<path d="M32.30 752.40L195.00 752.40" stroke="#9a9a9a" stroke-width="1.3"/>
<path d="M32.30 752.40L32.30 755.40" stroke="#9a9a9a" stroke-width="1"/>
<path d="M64.84 752.40L64.84 755.40" stroke="#9a9a9a" stroke-width="1"/>
<path d="M97.38 752.40L97.38 755.40" stroke="#9a9a9a" stroke-width="1"/>
<path d="M129.92 752.40L129.92 755.40" stroke="#9a9a9a" stroke-width="1"/>
<path d="M162.46 752.40L162.46 755.40" stroke="#9a9a9a" stroke-width="1"/>
<path d="M195.00 752.40L195.00 755.40" stroke="#9a9a9a" stroke-width="1"/>
<text x="100.25" y="762.20" font-size="7.6" text-anchor="middle" font-weight="bold" fill="#111" textLength="17.50" lengthAdjust="spacingAndGlyphs">0 µM</text>
<text x="162.75" y="761.70" font-size="7.6" text-anchor="middle" font-weight="bold" fill="#111" textLength="15.20" lengthAdjust="spacingAndGlyphs">1µM</text>
<text x="93.75" y="605.75" font-size="12.4" text-anchor="start" font-weight="bold" font-style="italic" fill="#000" textLength="42.50" lengthAdjust="spacingAndGlyphs">SMEK2</text>
<text x="12.75" y="683.75" font-size="7.8" text-anchor="middle" font-weight="bold" fill="#000" stroke="#000" stroke-width="0.25" textLength="26.50" lengthAdjust="spacingAndGlyphs" transform="rotate(-90 12.75 683.75)">Delta Ct</text>
<text x="191.25" y="621.25" font-size="8.6" text-anchor="start" font-style="italic" fill="#222" stroke="#222" stroke-width="0.2" textLength="27.50" lengthAdjust="spacingAndGlyphs">P=0.05</text>
<path d="M87.00 668.00L115.00 668.00" stroke="#3a3a3a" stroke-width="1.6"/>
<path d="M151.25 687.50L178.75 687.50" stroke="#3a3a3a" stroke-width="1.6"/>
<text x="102.50" y="664.90" font-size="8.3" text-anchor="start" fill="#111" stroke="#111" stroke-width="0.25" textLength="34.80" lengthAdjust="spacingAndGlyphs">Mean-6.3</text>
<text x="167.00" y="684.15" font-size="8.3" text-anchor="start" fill="#111" stroke="#111" stroke-width="0.25" textLength="34.80" lengthAdjust="spacingAndGlyphs">Mean-5.3</text>
<path d="M97.25 693.60L100.65 697.00L97.25 700.40L93.85 697.00Z" fill="#000"/>
<rect x="94.15" y="686.90" width="6.20" height="6.20" fill="#000"/>
<path d="M97.25 685.20L100.40 691.30L94.10 691.30Z" fill="#000"/>
<path d="M94.45 654.20L100.05 659.80M100.05 654.20L94.45 659.80" stroke="#000" stroke-width="1.05" fill="none"/>
<path d="M94.25 622.00L100.25 628.00M100.25 622.00L94.25 628.00M97.25 622.60L97.25 627.40" stroke="#000" stroke-width="1.05" fill="none"/>
<circle cx="97.25" cy="642.50" r="3.00" stroke="#000" stroke-width="1.05" fill="none"/>
<path d="M162.25 716.80L165.65 720.20L162.25 723.60L158.85 720.20Z" fill="#000"/>
<rect x="159.15" y="703.15" width="6.20" height="6.20" fill="#000"/>
<path d="M162.25 715.70L165.40 721.80L159.10 721.80Z" fill="#000"/>
<path d="M159.45 670.20L165.05 675.80M165.05 670.20L159.45 675.80" stroke="#000" stroke-width="1.05" fill="none"/>
<path d="M159.25 634.00L165.25 640.00M165.25 634.00L159.25 640.00M162.25 634.60L162.25 639.40" stroke="#000" stroke-width="1.05" fill="none"/>
<circle cx="162.25" cy="659.00" r="3.00" stroke="#000" stroke-width="1.05" fill="none"/>
<path d="M213.75 675.63L215.62 677.50L213.75 679.37L211.88 677.50Z" fill="#000"/>
<text x="216.25" y="679.80" font-size="6.4" text-anchor="start" font-weight="bold" fill="#111">Pt 1</text>
<rect x="212.04" y="686.29" width="3.41" height="3.41" fill="#000"/>
<text x="216.25" y="690.30" font-size="6.4" text-anchor="start" font-weight="bold" fill="#111">Pt 2</text>
<path d="M213.75 696.93L215.48 700.29L212.02 700.29Z" fill="#000"/>
<text x="216.25" y="701.05" font-size="6.4" text-anchor="start" font-weight="bold" fill="#111">Pt 3</text>
<path d="M212.21 707.96L215.29 711.04M215.29 707.96L212.21 711.04" stroke="#000" stroke-width="0.84" fill="none"/>
<text x="216.25" y="711.80" font-size="6.4" text-anchor="start" font-weight="bold" fill="#111">Reh</text>
<path d="M212.10 718.35L215.40 721.65M215.40 718.35L212.10 721.65M213.75 718.68L213.75 721.32" stroke="#000" stroke-width="0.84" fill="none"/>
<text x="216.25" y="722.30" font-size="6.4" text-anchor="start" font-weight="bold" fill="#111">RS4:11</text>
<circle cx="213.75" cy="730.75" r="1.65" stroke="#000" stroke-width="0.73" fill="none"/>
<text x="216.25" y="733.05" font-size="6.4" text-anchor="start" font-weight="bold" fill="#111">MV4:11</text>
<text x="1.00" y="17.00" font-size="16.8" text-anchor="start" font-weight="bold" fill="#000" textLength="12.00" lengthAdjust="spacingAndGlyphs">A</text>
<text x="1.60" y="408.80" font-size="17.2" text-anchor="start" font-weight="bold" fill="#000" textLength="12.60" lengthAdjust="spacingAndGlyphs">B</text>
</svg>
</body></html>
